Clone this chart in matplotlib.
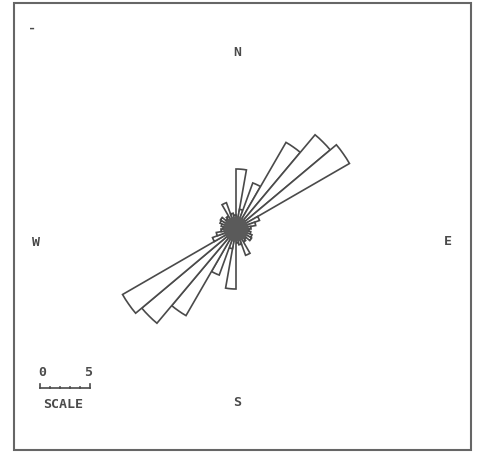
import numpy as np
import matplotlib
matplotlib.use("Agg")
import matplotlib.pyplot as plt
from matplotlib.patches import Rectangle
from matplotlib.lines import Line2D

# rose diagram of axial directions, 10 degree classes (0-180, mirrored to 180-360)
bin_start = np.arange(0, 180, 10)
lengths = [6.0, 2.0, 4.9, 10.0, 12.3, 13.1, 2.5, 2.0, 1.5,
           1.3, 1.5, 1.7, 1.8, 1.3, 1.5, 2.8, 1.6, 1.4]
center_r = 1.2
scale_len = 5
scale_labels = ["0", "5"]
dirs = ["N", "E", "S", "W"]

W, H = 478, 453
fig = plt.figure(figsize=(W / 100, H / 100), dpi=100)
fig.patch.set_facecolor("white")

# polar axes placed so its centre sits at pixel (236, 229), 10 px per unit
rmax = 15
px_unit = 10
cx, cy = 236, 229
half = rmax * px_unit
ax = fig.add_axes([(cx - half) / W, (H - cy - half) / H, 2 * half / W, 2 * half / H],
                  projection="polar")
ax.set_theta_zero_location("N")
ax.set_theta_direction(-1)
ax.set_ylim(0, rmax)
ax.axis("off")

theta = np.radians(np.concatenate([bin_start, bin_start + 180]) + 5)
r = np.concatenate([lengths, lengths])
ax.bar(theta, r, width=np.radians(10), bottom=0, color="white",
       edgecolor="#4a4a4a", linewidth=1.2, zorder=2)

t = np.linspace(0, 2 * np.pi, 100)
ax.fill(t, np.full_like(t, center_r), color="#5a5a5a", zorder=3)

# frame
fig.patches.append(Rectangle((14 / W, 3 / H), 457 / W, 447 / H, transform=fig.transFigure,
                             fill=False, edgecolor="#666666", linewidth=1.5))

font = dict(family="DejaVu Sans Mono", fontsize=9.5, color="#4a4a4a", fontweight="bold",
            ha="center", va="center")
pos = {"N": (237, 52), "E": (448, 242), "S": (237, 402), "W": (36, 243)}
for d in dirs:
    x, y = pos[d]
    fig.text(x / W, 1 - y / H, d, **font)
fig.text(32 / W, 1 - 28 / H, "-", **font)

# scale bar
x0, yb = 40, 388
x1 = x0 + scale_len * px_unit
fig.text(x0 / W + 2 / W, 1 - 372 / H, scale_labels[0], **font)
fig.text(x1 / W - 2 / W, 1 - 372 / H, scale_labels[1], **font)
fig.lines.append(Line2D([x0 / W, x1 / W], [1 - yb / H] * 2, transform=fig.transFigure,
                        color="#4a4a4a", linewidth=1.2))
for k in range(scale_len + 1):
    tick = 4 if k in (0, scale_len) else 1.5
    xx = (x0 + k * px_unit) / W
    fig.lines.append(Line2D([xx, xx], [1 - yb / H, 1 - (yb - tick) / H],
                            transform=fig.transFigure, color="#4a4a4a", linewidth=1.2))
fig.text(63 / W, 1 - 404 / H, "SCALE", **font)

fig.savefig("out.png", dpi=100, facecolor="white")
